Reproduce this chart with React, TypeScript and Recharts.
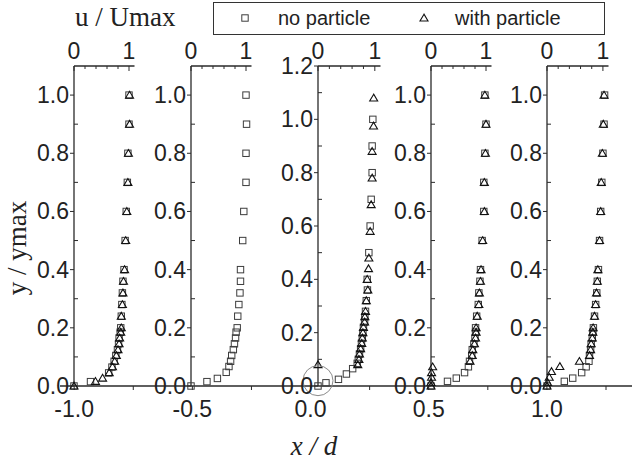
import React from "react";
import { ScatterChart, Scatter, XAxis, YAxis, ReferenceDot } from "recharts";

// [u/Umax, y/ymax] pairs
const noParticle1 = [
  [0, 0], [0.3, 0.015], [0.63, 0.045], [0.69, 0.065], [0.73, 0.085], [0.76, 0.105],
  [0.79, 0.125], [0.81, 0.145], [0.82, 0.165], [0.84, 0.185], [0.85, 0.2], [0.86, 0.24],
  [0.87, 0.28], [0.88, 0.32], [0.89, 0.36], [0.91, 0.4], [0.93, 0.5], [0.95, 0.6],
  [0.97, 0.7], [0.98, 0.8], [1.0, 0.9], [1.0, 1.0],
];
const withParticle1 = [
  [0, 0], [0.39, 0.016], [0.52, 0.027], [0.64, 0.046], [0.7, 0.066], [0.74, 0.085],
  [0.77, 0.105], [0.8, 0.125], [0.82, 0.145], [0.83, 0.165], [0.85, 0.185], [0.86, 0.2],
  [0.86, 0.24], [0.88, 0.28], [0.89, 0.32], [0.9, 0.36], [0.92, 0.4], [0.94, 0.5],
  [0.96, 0.6], [0.98, 0.7], [0.99, 0.8], [1.01, 0.9], [1.01, 1.0],
];
const noParticle2 = [
  [0, 0], [0.29, 0.015], [0.48, 0.026], [0.64, 0.047], [0.69, 0.067], [0.72, 0.085],
  [0.74, 0.105], [0.77, 0.125], [0.79, 0.145], [0.81, 0.165], [0.82, 0.185], [0.84, 0.2],
  [0.85, 0.24], [0.87, 0.28], [0.89, 0.32], [0.9, 0.36], [0.9, 0.4], [0.94, 0.5],
  [0.96, 0.6], [1.0, 0.7], [1.0, 0.8], [1.01, 0.9], [1.0, 1.0],
];
const withParticle2: number[][] = [];
const noParticle3 = [
  [0, 0], [0.14, 0.012], [0.36, 0.025], [0.5, 0.045], [0.61, 0.065], [0.69, 0.085],
  [0.71, 0.1], [0.73, 0.12], [0.75, 0.14], [0.765, 0.16], [0.78, 0.18], [0.79, 0.2],
  [0.8, 0.22], [0.82, 0.24], [0.825, 0.26], [0.836, 0.28], [0.85, 0.32], [0.87, 0.36],
  [0.866, 0.4], [0.895, 0.5], [0.918, 0.6], [0.936, 0.7], [0.953, 0.8], [0.953, 0.9],
  [0.965, 1.0],
];
const withParticle3 = [
  [0, 0.08], [0.7, 0.08], [0.72, 0.1], [0.73, 0.12], [0.75, 0.14], [0.77, 0.16],
  [0.78, 0.18], [0.79, 0.2], [0.8, 0.22], [0.82, 0.24], [0.825, 0.26], [0.836, 0.28],
  [0.85, 0.32], [0.877, 0.36], [0.866, 0.4], [0.889, 0.44], [0.895, 0.48], [0.918, 0.58],
  [0.936, 0.68], [0.953, 0.78], [0.953, 0.88], [0.977, 0.975], [0.98, 1.08],
];
const noParticle4 = [
  [0, 0], [0.3, 0.016], [0.46, 0.027], [0.61, 0.046], [0.68, 0.066], [0.7, 0.085],
  [0.74, 0.105], [0.75, 0.125], [0.78, 0.145], [0.8, 0.165], [0.81, 0.185], [0.81, 0.2],
  [0.83, 0.24], [0.86, 0.28], [0.87, 0.32], [0.89, 0.36], [0.9, 0.4], [0.93, 0.5],
  [0.96, 0.6], [0.96, 0.7], [0.98, 0.8], [1.0, 0.9], [0.98, 1.0],
];
const withParticle4 = [
  [0, 0], [0, 0.012], [0.01, 0.03], [0.01, 0.046], [0.03, 0.066], [0.71, 0.085],
  [0.75, 0.105], [0.76, 0.125], [0.79, 0.145], [0.81, 0.165], [0.82, 0.185], [0.82, 0.2],
  [0.84, 0.24], [0.87, 0.28], [0.88, 0.32], [0.9, 0.36], [0.91, 0.4], [0.94, 0.5],
  [0.97, 0.6], [0.97, 0.7], [0.99, 0.8], [1.0, 0.9], [0.98, 1.0],
];
const noParticle5 = [
  [0, 0], [0.31, 0.016], [0.46, 0.027], [0.62, 0.046], [0.7, 0.066], [0.75, 0.085],
  [0.76, 0.105], [0.78, 0.125], [0.79, 0.145], [0.81, 0.165], [0.82, 0.185], [0.83, 0.2],
  [0.85, 0.24], [0.87, 0.28], [0.89, 0.32], [0.9, 0.36], [0.92, 0.4], [0.94, 0.5],
  [0.96, 0.6], [0.98, 0.7], [1.0, 0.8], [1.02, 0.9], [1.03, 1.0],
];
const withParticle5 = [
  [0, 0], [0.01, 0.012], [0.04, 0.03], [0.08, 0.05], [0.23, 0.067], [0.58, 0.085],
  [0.76, 0.105], [0.78, 0.125], [0.79, 0.145], [0.81, 0.165], [0.82, 0.185], [0.825, 0.2],
  [0.85, 0.24], [0.87, 0.28], [0.885, 0.32], [0.9, 0.36], [0.91, 0.4], [0.94, 0.5],
  [0.96, 0.6], [0.97, 0.7], [0.99, 0.8], [1.007, 0.9], [1.02, 1.0],
];

const uTicks = [0, 0.2, 0.4, 0.6, 0.8, 1.0];
const yTicks11 = [0, 0.1, 0.2, 0.3, 0.4, 0.5, 0.6, 0.7, 0.8, 0.9, 1.0];
const yTicks12 = [0, 0.1, 0.2, 0.3, 0.4, 0.5, 0.6, 0.7, 0.8, 0.9, 1.0, 1.1, 1.2];
const xdTicks = [-1, -0.75, -0.5, -0.25, 0, 0.25, 0.5, 0.75, 1, 1.25];

const SANS = "'Liberation Sans', Arial, Helvetica, sans-serif";
const SERIF = "'Liberation Serif', 'Times New Roman', serif";
const AXIS = "#2a2a2a";
const PLOT_TOP = 66;
const PLOT_H = 320;
const YW = 45;
const XH = 35;
const TICK_FONT = 23;

const toPts = (arr: number[][]) => arr.map(([u, y]) => ({ u, y }));

function Square(props: any) {
  const { cx, cy } = props;
  if (cx == null || cy == null) return <g />;
  return <rect x={cx - 3.2} y={cy - 3.2} width={6.4} height={6.4} fill="none" stroke="#3c3c3c" strokeWidth={1} />;
}

function Triangle(props: any) {
  const { cx, cy } = props;
  if (cx == null || cy == null) return <g />;
  const pts = `${cx},${cy - 3.8} ${cx - 4},${cy + 3} ${cx + 4},${cy + 3}`;
  return <polygon points={pts} fill="none" stroke="#111" strokeWidth={1.1} />;
}

function TopTick({ x, y, payload }: any) {
  const v = payload.value;
  const major = v === 0 || v === 1;
  return (
    <g>
      <line x1={x} y1={y} x2={x} y2={y + (major ? 5 : 3)} stroke={AXIS} strokeWidth={1} />
      {major && (
        <text x={x} y={y - 7} textAnchor="middle" fontFamily={SANS} fontSize={TICK_FONT} fill="#222">
          {v}
        </text>
      )}
    </g>
  );
}

function LeftTick({ x, y, payload }: any) {
  const v = payload.value;
  const major = Math.round(v * 10) % 2 === 0;
  if (!major) return <line x1={x} y1={y} x2={x + 4} y2={y} stroke={AXIS} strokeWidth={1} />;
  return (
    <g>
      <line x1={x - 4} y1={y} x2={x} y2={y} stroke={AXIS} strokeWidth={1} />
      <text x={x - 5} y={y + 8} textAnchor="end" fontFamily={SANS} fontSize={TICK_FONT} fill="#222">
        {v.toFixed(1)}
      </text>
    </g>
  );
}

function BottomTick({ x, y, payload }: any) {
  const v = payload.value;
  const major = Math.round(v * 100) % 50 === 0;
  return (
    <g>
      <line x1={x} y1={y} x2={x} y2={y + 4} stroke={AXIS} strokeWidth={1} />
      {major && (
        <text x={x} y={y + 31} textAnchor="middle" fontFamily={SANS} fontSize={TICK_FONT} fill="#222">
          {v.toFixed(1)}
        </text>
      )}
    </g>
  );
}

function Panel({ left, width, yMax, yTicks, no, withP, circle }: any) {
  return (
    <div style={{ position: "absolute", left: left - YW, top: PLOT_TOP - XH }}>
      <ScatterChart width={YW + width + 12} height={XH + PLOT_H + 18} margin={{ top: 0, right: 12, bottom: 18, left: 0 }}>
        <XAxis
          type="number"
          dataKey="u"
          orientation="top"
          domain={[0, 1.1]}
          ticks={uTicks}
          interval={0}
          height={XH}
          tickSize={0}
          tickMargin={0}
          tickLine={false}
          axisLine={{ stroke: AXIS, strokeWidth: 1.3 }}
          tick={(p: any) => <TopTick {...p} />}
        />
        <YAxis
          type="number"
          dataKey="y"
          domain={[0, yMax]}
          ticks={yTicks}
          interval={0}
          width={YW}
          tickSize={0}
          tickMargin={0}
          tickLine={false}
          axisLine={{ stroke: AXIS, strokeWidth: 1.3 }}
          tick={(p: any) => <LeftTick {...p} />}
        />
        <Scatter data={toPts(no)} shape={(p: any) => <Square {...p} />} isAnimationActive={false} />
        {withP.length > 0 && (
          <Scatter data={toPts(withP)} shape={(p: any) => <Triangle {...p} />} isAnimationActive={false} />
        )}
        {circle && (
          <ReferenceDot x={0} y={0.02} r={15} fill="none" stroke="#8a8a8a" strokeWidth={1} ifOverflow="visible" />
        )}
      </ScatterChart>
    </div>
  );
}

const panels = [
  { left: 74, width: 60.5, yMax: 1.1, yTicks: yTicks11, no: noParticle1, withP: withParticle1 },
  { left: 191, width: 60.5, yMax: 1.1, yTicks: yTicks11, no: noParticle2, withP: withParticle2 },
  { left: 318, width: 62.5, yMax: 1.2, yTicks: yTicks12, no: noParticle3, withP: withParticle3, circle: true },
  { left: 431, width: 60.5, yMax: 1.1, yTicks: yTicks11, no: noParticle4, withP: withParticle4 },
  { left: 547, width: 61.5, yMax: 1.1, yTicks: yTicks11, no: noParticle5, withP: withParticle5 },
];

export default function App() {
  return (
    <div style={{ position: "absolute", left: 0, top: 0, width: 632, height: 468, background: "#fff", overflow: "hidden" }}>
      <svg width={632} height={468} style={{ position: "absolute", left: 0, top: 0 }}>
        <text x={75} y={26} fontFamily={SERIF} fontSize={27} fill="#222">u / Umax</text>
        <rect x={213.5} y={2.5} width={391} height={32} fill="#fff" stroke="#333" strokeWidth={1} />
        <Square cx={245} cy={18} />
        <text x={278} y={25} fontFamily={SANS} fontSize={20} fill="#222">no particle</text>
        <Triangle cx={424} cy={18} />
        <text x={455} y={25} fontFamily={SANS} fontSize={20} fill="#222">with particle</text>
        <text x={26} y={248} transform="rotate(-90 26 248)" textAnchor="middle" fontFamily={SERIF} fontSize={27} fill="#222">
          y / ymax
        </text>
        <text x={314} y={455} textAnchor="middle" fontFamily={SERIF} fontStyle="italic" fontSize={27} fill="#222">
          x / d
        </text>
      </svg>
      <div style={{ position: "absolute", left: 0, top: 376 }}>
        <ScatterChart width={632} height={80} margin={{ top: 0, right: 0, bottom: 0, left: 60 }}>
          <XAxis
            type="number"
            dataKey="x"
            domain={[-1.06, 1.36]}
            ticks={xdTicks}
            interval={0}
            height={70}
            tickSize={0}
            tickMargin={0}
            tickLine={false}
            axisLine={{ stroke: AXIS, strokeWidth: 1.3 }}
            tick={(p: any) => <BottomTick {...p} />}
          />
          <YAxis hide type="number" dataKey="y" domain={[0, 1]} />
          <Scatter data={xdTicks.map((x) => ({ x, y: 0.5 }))} shape={() => <g />} isAnimationActive={false} />
        </ScatterChart>
      </div>
      {panels.map((p, i) => (
        <Panel key={i} {...p} />
      ))}
    </div>
  );
}
